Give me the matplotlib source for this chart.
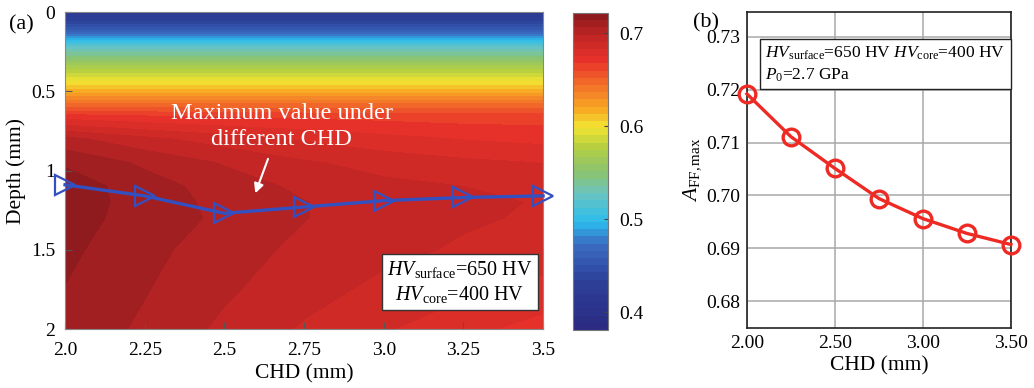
import numpy as np
import matplotlib
matplotlib.use('Agg')
import matplotlib.pyplot as plt
from matplotlib.colors import LinearSegmentedColormap

plt.rcParams['font.family'] = 'Liberation Serif'
plt.rcParams['mathtext.fontset'] = 'custom'
plt.rcParams['mathtext.rm'] = 'Liberation Serif'
plt.rcParams['mathtext.it'] = 'Liberation Serif:italic'

# ---- data ----
chd = [2.0, 2.25, 2.5, 2.75, 3.0, 3.25, 3.5]
depth = [0.0, 0.1, 0.14, 0.175, 0.22, 0.31, 0.39, 0.44, 0.52, 0.58, 0.66,
         0.8, 0.95, 1.1, 1.2, 1.3, 1.5, 1.75, 2.0]
# A_FF field, one row per depth, one column per CHD
a_ff_field = [
    [0.415, 0.415, 0.415, 0.415, 0.415, 0.415, 0.415],
    [0.452, 0.452, 0.452, 0.452, 0.452, 0.452, 0.452],
    [0.475, 0.475, 0.475, 0.475, 0.475, 0.475, 0.475],
    [0.497, 0.497, 0.497, 0.497, 0.497, 0.497, 0.497],
    [0.522, 0.522, 0.522, 0.522, 0.522, 0.522, 0.522],
    [0.558, 0.558, 0.558, 0.558, 0.558, 0.558, 0.558],
    [0.585, 0.585, 0.585, 0.585, 0.585, 0.585, 0.585],
    [0.600, 0.600, 0.600, 0.600, 0.600, 0.600, 0.600],
    [0.625, 0.625, 0.625, 0.625, 0.625, 0.625, 0.625],
    [0.645, 0.645, 0.645, 0.645, 0.645, 0.645, 0.645],
    [0.672, 0.669, 0.667, 0.666, 0.665, 0.664, 0.664],
    [0.701, 0.693, 0.687, 0.682, 0.678, 0.675, 0.673],
    [0.713, 0.705, 0.698, 0.692, 0.688, 0.685, 0.683],
    [0.719, 0.710, 0.703, 0.697, 0.693, 0.691, 0.689],
    [0.7185, 0.711, 0.704, 0.699, 0.6955, 0.6925, 0.6905],
    [0.718, 0.7105, 0.705, 0.699, 0.695, 0.692, 0.690],
    [0.716, 0.709, 0.702, 0.697, 0.693, 0.690, 0.687],
    [0.714, 0.707, 0.700, 0.694, 0.689, 0.685, 0.681],
    [0.712, 0.705, 0.697, 0.690, 0.684, 0.678, 0.672],
]
# depth of the maximum for each CHD (blue line)
max_depth = [1.09, 1.16, 1.27, 1.23, 1.19, 1.17, 1.16]
# maximum A_FF for each CHD (panel b)
a_ff_max = [0.7192, 0.7111, 0.7051, 0.6994, 0.6956, 0.6928, 0.6907]

cmap = LinearSegmentedColormap.from_list('afff', [
    (0.00, '#2a2a80'), (0.15, '#2d3f98'), (0.27, '#3a6cc2'),
    (0.34, '#2bbdee'), (0.43, '#6cc4c0'), (0.50, '#8cc46c'),
    (0.58, '#b8d040'), (0.64, '#f2e432'), (0.70, '#f7a623'),
    (0.78, '#f26a2a'), (0.85, '#e8322a'), (0.93, '#c02525'),
    (1.00, '#8a1a1e')])

fig = plt.figure(figsize=(10.34, 3.88), dpi=100)

# ---- panel (a) ----
ax = fig.add_axes([0.0629, 0.152, 0.4623, 0.817])
levels = np.linspace(0.381, 0.722, 45)
cs = ax.contourf(chd, depth, a_ff_field, levels=levels, cmap=cmap)
ax.plot(chd, max_depth, color='#3350c0', lw=2.4, marker='>', ms=14,
        mfc='none', mec='#3350c0', mew=1.6, clip_on=False, zorder=5)
ax.set_xlim(2.0, 3.5)
ax.set_ylim(2.0, 0.0)
ax.set_xticks(chd)
ax.set_xticklabels(['2.0', '2.25', '2.5', '2.75', '3.0', '3.25', '3.5'])
ax.set_yticks([0, 0.5, 1, 1.5, 2])
ax.set_yticklabels(['0', '0.5', '1', '1.5', '2'])
ax.tick_params(direction='in', length=5, labelsize=14, color='#555555')
ax.tick_params(axis='x', pad=9)
ax.tick_params(axis='y', pad=7)
for s in ax.spines.values():
    s.set_color('#888888')
ax.set_xlabel('CHD (mm)', fontsize=15.5, labelpad=4)
ax.set_ylabel('Depth (mm)', fontsize=15.5, labelpad=4)
ax.text(2.68, 0.72, 'Maximum value under\ndifferent CHD', ha='center',
        va='center', color='white', fontsize=17.5, linespacing=1.3)
ax.annotate('', xy=(2.594, 1.16), xytext=(2.64, 0.91),
            arrowprops=dict(arrowstyle='-|>', color='white', lw=1.5,
                            mutation_scale=14))
ax.text(0.826, 0.148, r'$\mathit{HV}_{\rm surface}$=650 HV' + '\n' +
        r'$\mathit{HV}_{\rm core}$=400 HV', transform=ax.transAxes,
        ha='center', va='center', fontsize=14.5, linespacing=1.25,
        bbox=dict(boxstyle='square,pad=0.25', fc='white', ec='#333333', lw=1))
fig.text(0.009, 0.925, '(a)', fontsize=16)

cax = fig.add_axes([0.5542, 0.1495, 0.0338, 0.817])
cb = fig.colorbar(cs, cax=cax, ticks=[0.4, 0.5, 0.6, 0.7])
cb.ax.set_yticklabels(['0.4', '0.5', '0.6', '0.7'])
cb.ax.tick_params(direction='in', length=3, labelsize=14, color='#444444',
                  pad=8)
cb.outline.set_edgecolor('#777777')

# ---- panel (b) ----
bx = fig.add_axes([0.7224, 0.1546, 0.2553, 0.8144])
bx.plot(chd, a_ff_max, color='#ee2a24', lw=2.4, marker='o', ms=12,
        mfc='none', mec='#ee2a24', mew=2.4, clip_on=False, zorder=5)
bx.set_xlim(2.0, 3.5)
bx.set_ylim(0.6749, 0.7347)
bx.set_xticks([2.0, 2.5, 3.0, 3.5])
bx.set_xticklabels(['2.00', '2.50', '3.00', '3.50'])
bx.set_yticks([0.68, 0.69, 0.70, 0.71, 0.72, 0.73])
bx.set_yticklabels(['0.68', '0.69', '0.70', '0.71', '0.72', '0.73'])
bx.grid(True, color='#a8a8a8', lw=1.1)
bx.tick_params(length=0, labelsize=14, pad=5)
for s in bx.spines.values():
    s.set_color('#222222')
    s.set_linewidth(1.2)
bx.set_xlabel('CHD (mm)', fontsize=15.5, labelpad=3)
bx.set_ylabel(r'$A_{\rm FF,max}$', fontsize=15.5, labelpad=2)
bx.text(0.07, 0.835, r'$\mathit{HV}_{\rm surface}$=650 HV $\mathit{HV}_{\rm core}$=400 HV'
        + '\n' + r'$P_0$=2.7 GPa', transform=bx.transAxes, ha='left',
        va='center', fontsize=12.5, linespacing=1.4,
        bbox=dict(boxstyle='square,pad=0.3', fc='white', ec='#222222', lw=1))
fig.text(0.670, 0.93, '(b)', fontsize=16)

fig.savefig('out.png', dpi=100)
